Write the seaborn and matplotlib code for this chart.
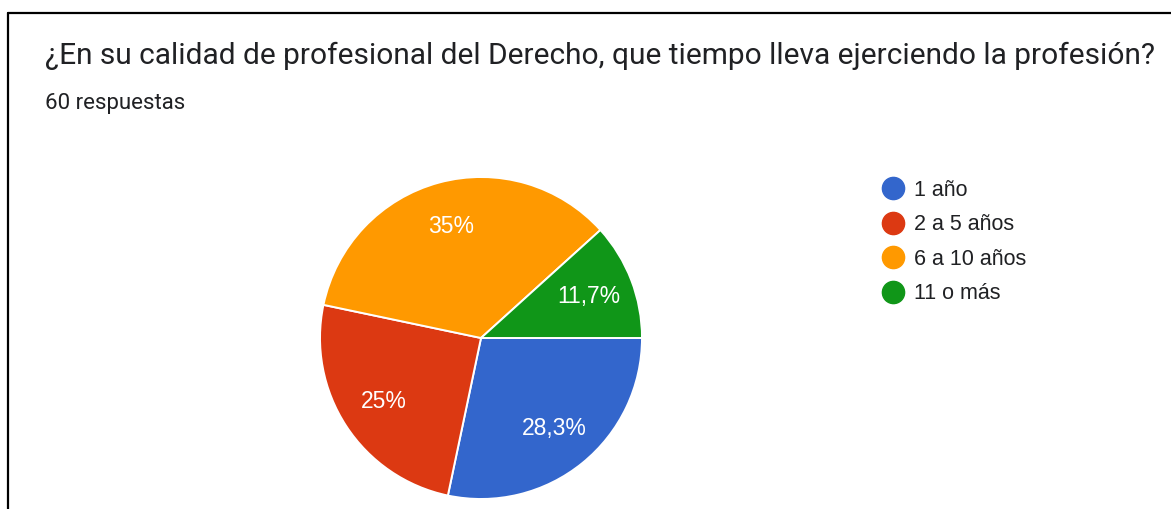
import matplotlib
matplotlib.use("Agg")
import matplotlib.pyplot as plt
from matplotlib.lines import Line2D
import seaborn as sns

# data
categories = ["1 año", "2 a 5 años", "6 a 10 años", "11 o más"]
shares = [28.3, 25.0, 35.0, 11.7]
share_labels = ["28,3%", "25%", "35%", "11,7%"]
colours = ["#3366CC", "#DC3912", "#FF9900", "#109618"]

title = "¿En su calidad de profesional del Derecho, que tiempo lleva ejerciendo la profesión?"
subtitle = "60 respuestas"

sns.set_theme(style="white")
plt.rcParams["font.family"] = ["Liberation Sans", "DejaVu Sans"]

W, H = 1171, 509
fig = plt.figure(figsize=(W / 100, H / 100), dpi=100)
fig.patch.set_facecolor("white")

# frame (top + left edges visible in the crop)
fig.add_artist(Line2D([8 / W, 1], [1 - 13 / H, 1 - 13 / H], color="black", lw=1.6))
fig.add_artist(Line2D([8 / W, 8 / W], [0, 1 - 13 / H], color="black", lw=1.6))

fig.text(45 / W, 1 - 56 / H, title, fontsize=21.5, color="#202124",
         family=["Roboto", "DejaVu Sans"], va="center", ha="left")
fig.text(45 / W, 1 - 103 / H, subtitle, fontsize=16, color="#202124",
         family=["Roboto", "DejaVu Sans"], va="center", ha="left")

# pie
cx, cy, r = 481, 338, 161
ax = fig.add_axes([(cx - r) / W, (H - cy - r) / H, 2 * r / W, 2 * r / H])
wedges, texts = ax.pie(shares, colors=colours, startangle=0, counterclock=False,
                       labels=share_labels, labeldistance=0.72,
                       wedgeprops={"edgecolor": "white", "linewidth": 1.4})
for t in texts:
    t.set_color("white")
    t.set_fontsize(16.5)
    t.set_ha("center")
    t.set_va("center")
ax.set_xlim(-1, 1)
ax.set_ylim(-1, 1)
ax.set_aspect("equal")

handles = [Line2D([0], [0], marker="o", linestyle="", markersize=16,
                  markerfacecolor=c, markeredgecolor=c) for c in colours]
fig.legend(handles, categories, loc="upper left",
           bbox_to_anchor=(880 / W, 1 - 180 / H), frameon=False,
           fontsize=15.5, handletextpad=0.4, labelspacing=0.62,
           handlelength=1.2, borderaxespad=0, borderpad=0,
           labelcolor="#202124")

fig.savefig("out.png", dpi=100)
